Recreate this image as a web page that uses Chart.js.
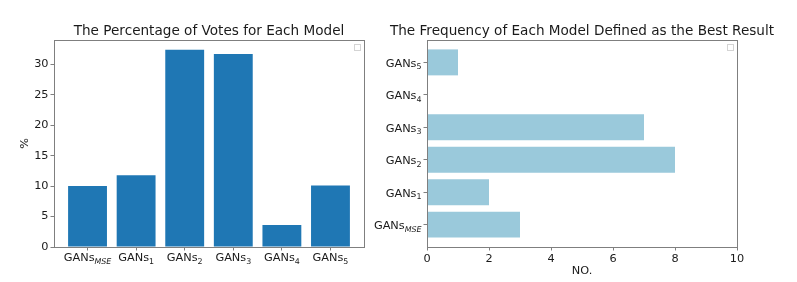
<!DOCTYPE html>
<html><head><meta charset="utf-8">
<script src="https://cdn.jsdelivr.net/npm/chart.js@4"></script>
<style>
html,body{margin:0;padding:0;background:#fff;}
#wrap{position:relative;width:797px;height:282px;overflow:hidden;background:#fff;}
#c1{position:absolute;left:0;top:0;width:370px;height:282px;}
#c2{position:absolute;left:370px;top:0;width:427px;height:282px;}
</style></head><body>
<div id="wrap">
<canvas id="c1" width="370" height="282"></canvas>
<canvas id="c2" width="427" height="282"></canvas>
</div>
<script>
// ---- data ----
const categories = ['GANs_MSE', 'GANs_1', 'GANs_2', 'GANs_3', 'GANs_4', 'GANs_5'];
const votePercent = [10.0, 11.8, 32.4, 31.7, 3.6, 10.1];
const bestCount = [3, 2, 8, 7, 0, 1];
const leftTitle = 'The Percentage of Votes for Each Model';
const rightTitle = 'The Frequency of Each Model Defined as the Best Result';
const leftYLabel = '%';
const rightXLabel = 'NO.';

// ---- style ----
const FONT = "'DejaVu Sans', sans-serif";
const TXT = '#1a1a1a';
const FRAME = '#7f7f7f';
const TICK_PX = 11.3;
const SUB_PX = 7.9;

function drawSubLabel(ctx, text, x, y, align) {
  const parts = text.split('_');
  const main = parts[0], sub = parts[1] || '';
  const mainFont = TICK_PX + 'px ' + FONT;
  const subFont = (/^\d+$/.test(sub) ? '' : 'italic ') + SUB_PX + 'px ' + FONT;
  ctx.font = mainFont;
  const wm = ctx.measureText(main).width;
  ctx.font = subFont;
  const ws = ctx.measureText(sub).width;
  const total = wm + ws;
  const x0 = align === 'center' ? x - total / 2 : x - total;
  ctx.textAlign = 'left';
  ctx.textBaseline = 'alphabetic';
  ctx.fillStyle = TXT;
  ctx.font = mainFont;
  ctx.fillText(main, x0, y);
  ctx.font = subFont;
  ctx.fillText(sub, x0 + wm, y + 2.5);
}

const decorPlugin = {
  id: 'decor',
  afterDraw(chart, args, opts) {
    const ctx = chart.ctx;
    const a = chart.chartArea;
    ctx.save();
    // frame
    ctx.strokeStyle = FRAME;
    ctx.lineWidth = 1;
    const l = Math.round(a.left) + 0.5, t = Math.round(a.top) + 0.5;
    const r = Math.round(a.right) + 0.5, b = Math.round(a.bottom) + 0.5;
    ctx.strokeRect(l, t, r - l, b - t);
    // empty legend box
    ctx.strokeStyle = '#d4d4d4';
    ctx.strokeRect(Math.round(a.right) - 9.5, Math.round(a.top) + 4.5, 6, 6);
    // title
    ctx.fillStyle = TXT;
    ctx.font = '13.6px ' + FONT;
    ctx.textAlign = 'center';
    ctx.textBaseline = 'alphabetic';
    ctx.fillText(opts.title, (a.left + a.right) / 2, a.top - 5);
    // category labels with subscripts
    const sc = chart.scales[opts.catAxis];
    categories.forEach((c, i) => {
      const p = sc.getPixelForValue(i);
      if (opts.catAxis === 'x') {
        drawSubLabel(ctx, c, p, a.bottom + 3.5 + 2 + 8.6, 'center');
      } else {
        drawSubLabel(ctx, c, a.left - 3.5 - 2, p + 4.5, 'right');
      }
    });
    ctx.restore();
  }
};

const gridOpts = { display: true, drawOnChartArea: false, drawTicks: true, tickLength: 3.5, color: FRAME, lineWidth: 1, offset: false };
const tickFont = { family: FONT, size: TICK_PX };
const catTicks = s => { s.ticks = categories.map((_, i) => ({ value: i })); };

// ---- left chart ----
new Chart(document.getElementById('c1'), {
  type: 'bar',
  data: {
    datasets: [{
      data: votePercent.map((v, i) => ({ x: i, y: v })),
      backgroundColor: '#1f77b4',
      borderWidth: 0,
      barPercentage: 1.0,
      categoryPercentage: 0.8
    }]
  },
  options: {
    responsive: false,
    animation: false,
    layout: { padding: { top: 40, right: 6, left: 0, bottom: 0 } },
    plugins: {
      legend: { display: false },
      tooltip: { enabled: false },
      decor: { title: leftTitle, catAxis: 'x' }
    },
    scales: {
      x: {
        type: 'linear', min: -0.69, max: 5.69, offset: false,
        afterBuildTicks: catTicks,
        afterFit: s => { s.height = 35; },
        ticks: { display: false },
        grid: gridOpts,
        border: { display: false }
      },
      y: {
        type: 'linear', min: 0, max: 34.0,
        afterFit: s => { s.width = 54; },
        ticks: { stepSize: 5, includeBounds: false, font: tickFont, color: TXT, padding: 2 },
        grid: gridOpts,
        border: { display: false },
        title: { display: true, text: leftYLabel, font: tickFont, color: TXT, padding: { top: 18, bottom: 0 } }
      }
    }
  },
  plugins: [decorPlugin]
});

// ---- right chart ----
new Chart(document.getElementById('c2'), {
  type: 'bar',
  data: {
    datasets: [{
      data: bestCount.map((v, i) => ({ x: v, y: i })),
      backgroundColor: '#9ac9db',
      borderWidth: 0,
      barPercentage: 1.0,
      categoryPercentage: 0.8
    }]
  },
  options: {
    indexAxis: 'y',
    responsive: false,
    animation: false,
    layout: { padding: { top: 40, right: 60, left: 0, bottom: 0 } },
    plugins: {
      legend: { display: false },
      tooltip: { enabled: false },
      decor: { title: rightTitle, catAxis: 'y' }
    },
    scales: {
      x: {
        type: 'linear', min: 0, max: 10,
        afterFit: s => { s.height = 35; },
        ticks: { stepSize: 2, font: tickFont, color: TXT, padding: 2, maxRotation: 0 },
        grid: gridOpts,
        border: { display: false },
        title: { display: true, text: rightXLabel, font: tickFont, color: TXT, padding: { top: 0, bottom: 4 } }
      },
      y: {
        type: 'linear', min: -0.69, max: 5.69, offset: false,
        afterBuildTicks: catTicks,
        afterFit: s => { s.width = 57; },
        ticks: { display: false },
        grid: gridOpts,
        border: { display: false }
      }
    }
  },
  plugins: [decorPlugin]
});
</script>
</body></html>
